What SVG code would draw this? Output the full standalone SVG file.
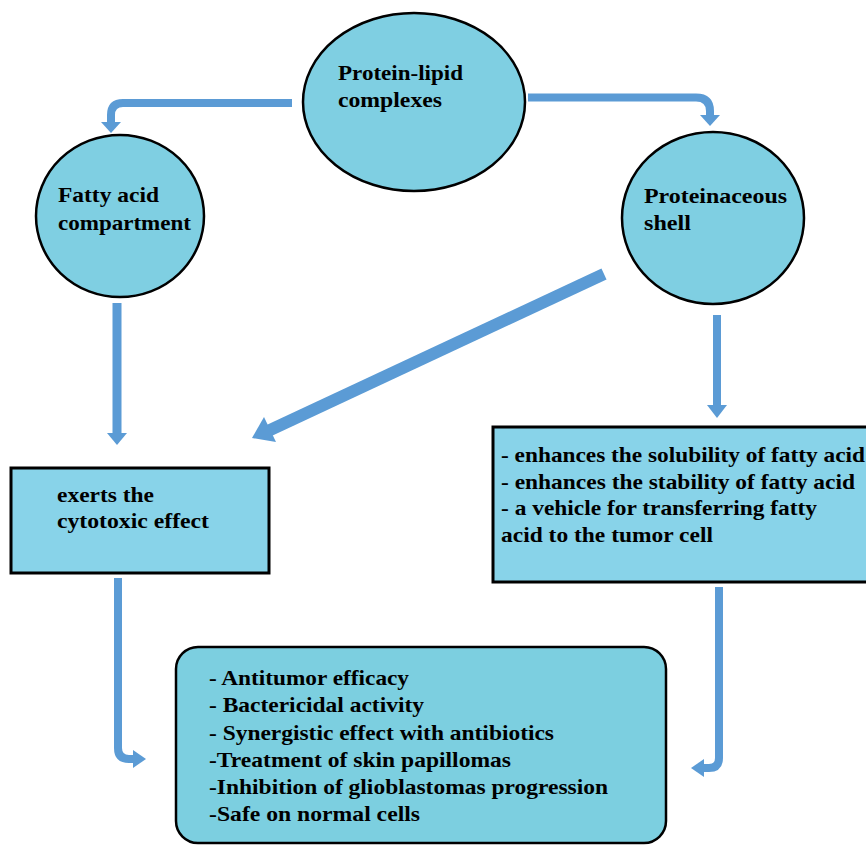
<svg xmlns="http://www.w3.org/2000/svg" width="866" height="845" viewBox="0 0 866 845">
<style>
.ell{fill:#7fcfe2;stroke:#000;stroke-width:2.5}
.box{fill:#88d3e9;stroke:#000;stroke-width:3}
.t{font-family:"Liberation Serif","Times New Roman",serif;font-weight:bold;font-size:21px;fill:#000}
.sh{fill:none;stroke:#5b9bd5;stroke-width:8}
.hd{fill:#5b9bd5}
</style>
<rect width="866" height="845" fill="#fff"/>
<g id="connectors">
<path class="sh" d="M292,103 H123 Q111,103 111,115 V123"/>
<polygon class="hd" points="101,122 121,122 111,133"/>
<path class="sh" d="M528,97.5 H696 Q710,97.5 710,111 V116"/>
<polygon class="hd" points="700,115 720,115 710,126"/>
<path class="sh" d="M117,303 V434" style="stroke-width:9"/>
<polygon class="hd" points="107,433 127,433 117,445"/>
<path class="sh" d="M604,274 L268,431" style="stroke-width:12"/>
<polygon class="hd" points="276,442 264,417 252,438"/>
<path class="sh" d="M717,315 V406"/>
<polygon class="hd" points="707,405 727,405 717,418"/>
<path class="sh" d="M118,578 V748 Q118,759 129,759 H134"/>
<polygon class="hd" points="133,750 133,768 146,759"/>
<path class="sh" d="M719,587 V758 Q719,768 709,768 H703"/>
<polygon class="hd" points="704,759 704,777 691,768"/>
</g>
<g id="protein-lipid">
<ellipse class="ell" cx="414" cy="102" rx="111" ry="89"/>
<text class="t" x="338" y="80" textLength="125" lengthAdjust="spacingAndGlyphs">Protein-lipid</text>
<text class="t" x="338" y="107" textLength="104" lengthAdjust="spacingAndGlyphs">complexes</text>
</g>
<g id="fatty-acid">
<ellipse class="ell" cx="120" cy="216" rx="84" ry="81"/>
<text class="t" x="58" y="202" textLength="101" lengthAdjust="spacingAndGlyphs">Fatty acid</text>
<text class="t" x="58" y="230" textLength="133" lengthAdjust="spacingAndGlyphs">compartment</text>
</g>
<g id="proteinaceous">
<ellipse class="ell" cx="713" cy="218" rx="91" ry="86"/>
<text class="t" x="644" y="203" textLength="143" lengthAdjust="spacingAndGlyphs">Proteinaceous</text>
<text class="t" x="644" y="230" textLength="47" lengthAdjust="spacingAndGlyphs">shell</text>
</g>
<g id="cytotoxic">
<rect class="box" x="11" y="468" width="258" height="105"/>
<text class="t" x="57" y="502" textLength="97" lengthAdjust="spacingAndGlyphs">exerts the</text>
<text class="t" x="57" y="528" textLength="152" lengthAdjust="spacingAndGlyphs">cytotoxic effect</text>
</g>
<g id="shell-effects">
<rect class="box" x="493" y="427" width="390" height="155"/>
<text class="t" x="501" y="462" textLength="364" lengthAdjust="spacingAndGlyphs">- enhances the solubility of fatty acid</text>
<text class="t" x="501" y="489" textLength="354" lengthAdjust="spacingAndGlyphs">- enhances the stability of fatty acid</text>
<text class="t" x="501" y="515" textLength="316" lengthAdjust="spacingAndGlyphs">- a vehicle for transferring fatty</text>
<text class="t" x="501" y="542" textLength="212" lengthAdjust="spacingAndGlyphs">acid to the tumor cell</text>
</g>
<g id="outcomes">
<rect x="176" y="647" width="490" height="196" rx="22" fill="#7ccfe0" stroke="#000" stroke-width="2.5"/>
<text class="t" x="209" y="685" textLength="200" lengthAdjust="spacingAndGlyphs">- Antitumor efficacy</text>
<text class="t" x="209" y="712" textLength="215" lengthAdjust="spacingAndGlyphs">- Bactericidal activity</text>
<text class="t" x="209" y="740" textLength="345" lengthAdjust="spacingAndGlyphs">- Synergistic effect with antibiotics</text>
<text class="t" x="209" y="767" textLength="302" lengthAdjust="spacingAndGlyphs">-Treatment of skin papillomas</text>
<text class="t" x="209" y="794" textLength="399" lengthAdjust="spacingAndGlyphs">-Inhibition of glioblastomas progression</text>
<text class="t" x="209" y="821" textLength="211" lengthAdjust="spacingAndGlyphs">-Safe on normal cells</text>
</g>
</svg>
